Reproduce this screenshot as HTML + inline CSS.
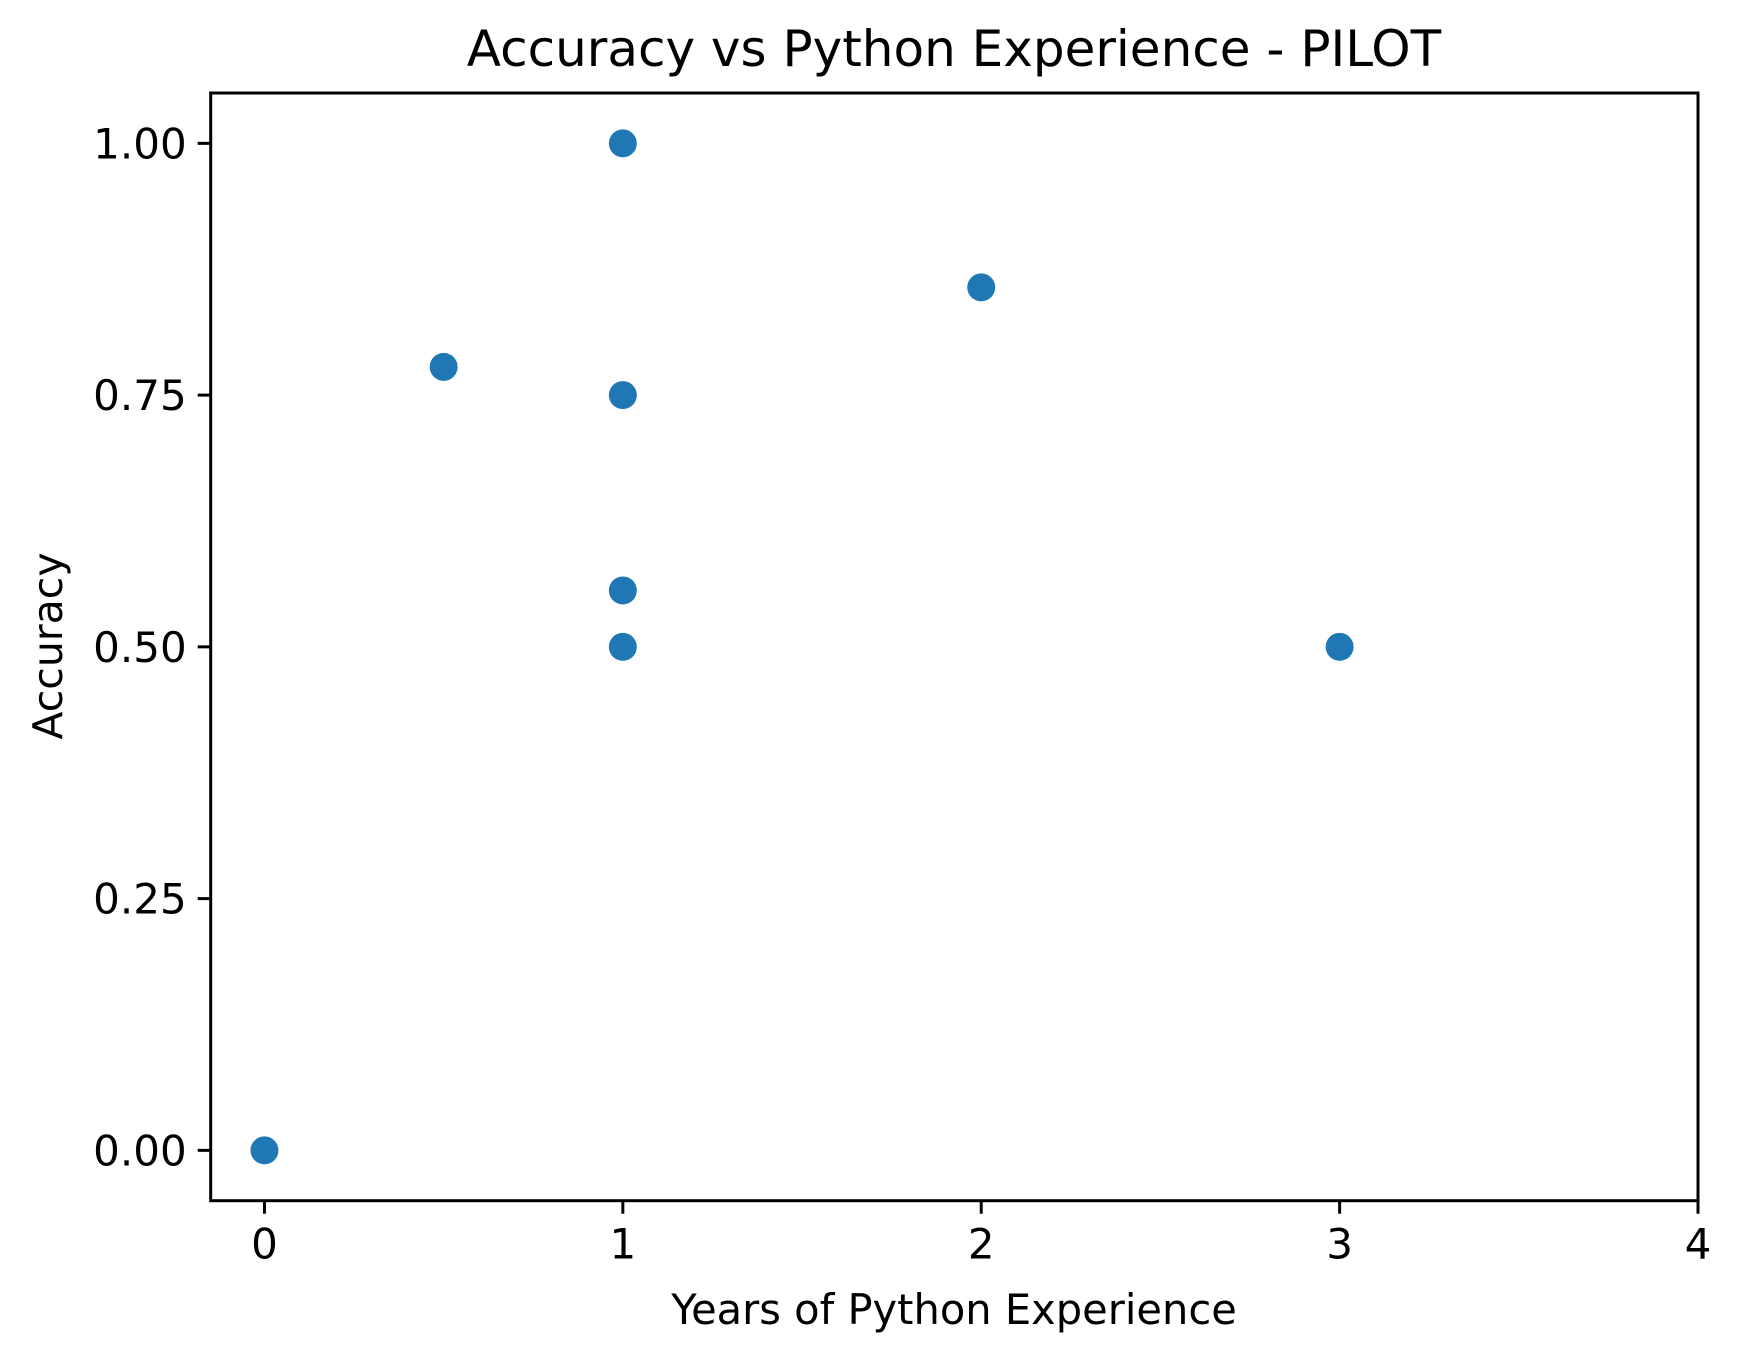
<!DOCTYPE html>
<html><head><meta charset="utf-8"><style>
html,body{margin:0;padding:0;background:#fff}
svg{display:block}
text{font-family:"DejaVu Sans","Liberation Sans",sans-serif;fill:#000}
</style></head><body>
<svg id="chart" width="1741" height="1361" viewBox="0 0 1741 1361">
<rect width="1741" height="1361" fill="#fff"/>
<text x="954" y="66" font-size="50" text-anchor="middle">Accuracy vs Python Experience - PILOT</text>
<g id="marks"></g>
<g id="axes"></g>
<text x="954" y="1324" font-size="41.6" text-anchor="middle">Years of Python Experience</text>
<text transform="translate(62,646) rotate(-90)" font-size="41" text-anchor="middle">Accuracy</text>
</svg>
<script>
const xValues = [0, 0.5, 1, 1, 1, 1, 2, 3];
const yValues = [0, 0.778, 1.0, 0.75, 0.556, 0.5, 0.857, 0.5];
const xTicks = [0, 1, 2, 3, 4];
const xTickLabels = ["0", "1", "2", "3", "4"];
const yTicks = [0, 0.25, 0.5, 0.75, 1.0];
const yTickLabels = ["0.00", "0.25", "0.50", "0.75", "1.00"];

const L = 210.7, R = 1698, T = 93, B = 1200.7;
const xMin = -0.15, xMax = 4, yMin = -0.05, yMax = 1.05;
const sx = v => L + (v - xMin) / (xMax - xMin) * (R - L);
const sy = v => B - (v - yMin) / (yMax - yMin) * (B - T);
const NS = "http://www.w3.org/2000/svg";
const marks = document.getElementById('marks');
const axes = document.getElementById('axes');

xValues.forEach((x, i) => {
  const c = document.createElementNS(NS, 'circle');
  c.setAttribute('cx', sx(x));
  c.setAttribute('cy', sy(yValues[i]));
  c.setAttribute('r', 14);
  c.setAttribute('fill', '#1f77b4');
  
  
  marks.appendChild(c);
});

const frame = document.createElementNS(NS, 'rect');
frame.setAttribute('x', L); frame.setAttribute('y', T);
frame.setAttribute('width', R - L); frame.setAttribute('height', B - T);
frame.setAttribute('fill', 'none'); frame.setAttribute('stroke', '#000'); frame.setAttribute('stroke-width', 3);


axes.appendChild(frame);

xTicks.forEach((t, i) => {
  const x = sx(t);
  const l = document.createElementNS(NS, 'line');
  l.setAttribute('x1', x); l.setAttribute('x2', x); l.setAttribute('y1', B); l.setAttribute('y2', B + 13);
  l.setAttribute('stroke', '#000'); l.setAttribute('stroke-width', 3);
  
  
  axes.appendChild(l);
  const tx = document.createElementNS(NS, 'text');
  tx.setAttribute('x', x); tx.setAttribute('y', B + 58);
  tx.setAttribute('font-size', 42); tx.setAttribute('text-anchor', 'middle');
  tx.textContent = xTickLabels[i];
  
  
  axes.appendChild(tx);
});

yTicks.forEach((t, i) => {
  const y = sy(t);
  const l = document.createElementNS(NS, 'line');
  l.setAttribute('x1', L - 13); l.setAttribute('x2', L); l.setAttribute('y1', y); l.setAttribute('y2', y);
  l.setAttribute('stroke', '#000'); l.setAttribute('stroke-width', 3);
  
  
  axes.appendChild(l);
  const tx = document.createElementNS(NS, 'text');
  tx.setAttribute('x', L - 24); tx.setAttribute('y', y + 15);
  tx.setAttribute('font-size', 42); tx.setAttribute('text-anchor', 'end');
  tx.textContent = yTickLabels[i];
  
  
  axes.appendChild(tx);
});
</script>
</body></html>
